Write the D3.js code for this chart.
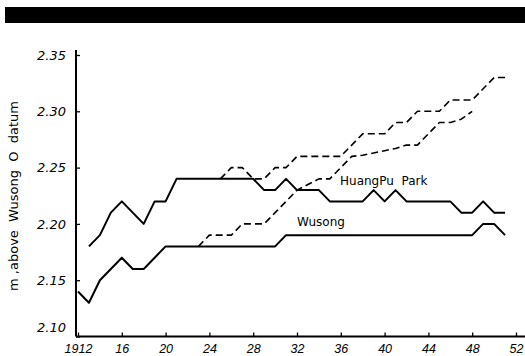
<!DOCTYPE html>
<html>
<head>
<meta charset="utf-8">
<script src="https://cdn.jsdelivr.net/npm/d3@7"></script>
<style>
  body { margin: 0; background: #fff; }
  svg { display: block; }
</style>
</head>
<body>
<div id="chart"></div>
<script>
// mean sea level, metres above Wusong zero datum
const huangpuObserved = [
  [1913, 2.18], [1914, 2.19], [1915, 2.21], [1916, 2.22], [1917, 2.21], [1918, 2.20],
  [1919, 2.22], [1920, 2.22], [1921, 2.24], [1922, 2.24], [1923, 2.24], [1924, 2.24],
  [1925, 2.24], [1926, 2.24], [1927, 2.24], [1928, 2.24], [1929, 2.23], [1930, 2.23],
  [1931, 2.24], [1932, 2.23], [1933, 2.23], [1934, 2.23], [1935, 2.22], [1936, 2.22],
  [1937, 2.22], [1938, 2.22], [1939, 2.23], [1940, 2.22], [1941, 2.23], [1942, 2.22],
  [1943, 2.22], [1944, 2.22], [1945, 2.22], [1946, 2.22], [1947, 2.21], [1948, 2.21],
  [1949, 2.22], [1950, 2.21], [1951, 2.21]
];
const huangpuDashed = [
  [1925, 2.24], [1926, 2.25], [1927, 2.25], [1928, 2.24], [1929, 2.24], [1930, 2.25],
  [1931, 2.25], [1932, 2.26], [1933, 2.26], [1934, 2.26], [1935, 2.26], [1936, 2.26],
  [1937, 2.27], [1938, 2.28], [1939, 2.28], [1940, 2.28], [1941, 2.29], [1942, 2.29],
  [1943, 2.30], [1944, 2.30], [1945, 2.30], [1946, 2.31], [1947, 2.31], [1948, 2.31],
  [1949, 2.32], [1950, 2.33], [1951, 2.33]
];
const wusongObserved = [
  [1912, 2.14], [1913, 2.13], [1914, 2.15], [1915, 2.16], [1916, 2.17], [1917, 2.16],
  [1918, 2.16], [1919, 2.17], [1920, 2.18], [1921, 2.18], [1922, 2.18], [1923, 2.18],
  [1924, 2.18], [1925, 2.18], [1926, 2.18], [1927, 2.18], [1928, 2.18], [1929, 2.18],
  [1930, 2.18], [1931, 2.19], [1932, 2.19], [1933, 2.19], [1934, 2.19], [1935, 2.19],
  [1936, 2.19], [1937, 2.19], [1938, 2.19], [1939, 2.19], [1940, 2.19], [1941, 2.19],
  [1942, 2.19], [1943, 2.19], [1944, 2.19], [1945, 2.19], [1946, 2.19], [1947, 2.19],
  [1948, 2.19], [1949, 2.20], [1950, 2.20], [1951, 2.19]
];
const wusongDashed = [
  [1923, 2.18], [1924, 2.19], [1925, 2.19], [1926, 2.19], [1927, 2.20], [1928, 2.20],
  [1929, 2.20], [1930, 2.21], [1931, 2.22], [1932, 2.23], [1933, 2.235], [1934, 2.24],
  [1935, 2.24], [1936, 2.25], [1937, 2.26], [1938, 2.261], [1939, 2.263], [1940, 2.265],
  [1941, 2.267], [1942, 2.27], [1943, 2.27], [1944, 2.28], [1945, 2.29], [1946, 2.29],
  [1947, 2.293], [1948, 2.30]
];
const xTicks = [1912, 1916, 1920, 1924, 1928, 1932, 1936, 1940, 1944, 1948, 1952];
const yTicks = [2.10, 2.15, 2.20, 2.25, 2.30, 2.35];

const svgWidth = 525;
const svgHeight = 356;

const svg = d3.select("#chart")
  .append("svg")
  .attr("width", svgWidth)
  .attr("height", svgHeight);

// black band across the top
svg.append("rect")
  .attr("x", 5).attr("y", 7)
  .attr("width", 520).attr("height", 16)
  .attr("fill", "#000");

const x = d3.scaleLinear().domain([1912, 1952]).range([78, 516]);
const y = d3.scaleLinear().domain([2.10, 2.35]).range([336.5, 55]);

const labelFont = "'DejaVu Sans', sans-serif";

// x axis
const xAxis = svg.append("g")
  .attr("transform", `translate(0, ${y(2.10)})`)
  .call(d3.axisBottom(x)
    .tickValues(xTicks)
    .tickSize(-4)
    .tickPadding(8)
    .tickFormat(d => d === 1912 ? "1912" : String(d).slice(2)));
xAxis.select(".domain").attr("d", `M76,0H525`).attr("stroke-width", 2);
xAxis.selectAll(".tick line").attr("stroke-width", 1.3);
xAxis.selectAll("text")
  .attr("font-family", "'Liberation Sans', sans-serif")
  .attr("font-style", "italic")
  .attr("font-size", 12.5)
  .attr("fill", "#000");

// y axis
const yAxis = svg.append("g")
  .attr("transform", `translate(76, 0)`)
  .call(d3.axisLeft(y)
    .tickValues(yTicks)
    .tickSize(-4)
    .tickPadding(10)
    .tickFormat(d3.format(".2f")));
yAxis.select(".domain").attr("d", `M0,50V${y(2.10)}`).attr("stroke-width", 2);
yAxis.selectAll(".tick line").attr("stroke-width", 1.3);
yAxis.selectAll("text")
  .attr("font-family", labelFont)
  .attr("font-style", "italic")
  .attr("font-size", 13)
  .attr("fill", "#000")
  .attr("dy", d => d === 2.10 ? "-0.4em" : "0.32em");

// y axis title
svg.append("text")
  .attr("transform", `translate(18, ${196}) rotate(-90)`)
  .attr("text-anchor", "middle")
  .attr("font-family", labelFont)
  .attr("font-size", 13)
  .style("white-space", "pre")
  .text("m ,above  Wusong  O  datum");

const line = d3.line()
  .x(d => x(d[0]))
  .y(d => y(d[1]));

const series = [
  { data: huangpuObserved, dash: null, width: 2 },
  { data: wusongObserved, dash: null, width: 2 },
  { data: huangpuDashed, dash: "7,4", width: 1.6 },
  { data: wusongDashed, dash: "7,4", width: 1.6 }
];

svg.selectAll(".series")
  .data(series)
  .enter()
  .append("path")
  .attr("class", "series")
  .attr("d", d => line(d.data))
  .attr("fill", "none")
  .attr("stroke", "#000")
  .attr("stroke-width", d => d.width)
  .attr("stroke-dasharray", d => d.dash)
  .attr("stroke-linejoin", "round");

// station labels
svg.append("text")
  .attr("x", 340).attr("y", 185)
  .attr("font-family", labelFont)
  .attr("font-size", 12)
  .style("white-space", "pre")
  .text("HuangPu  Park");

svg.append("text")
  .attr("x", 297).attr("y", 226)
  .attr("font-family", labelFont)
  .attr("font-size", 12)
  .text("Wusong");
</script>
</body>
</html>
